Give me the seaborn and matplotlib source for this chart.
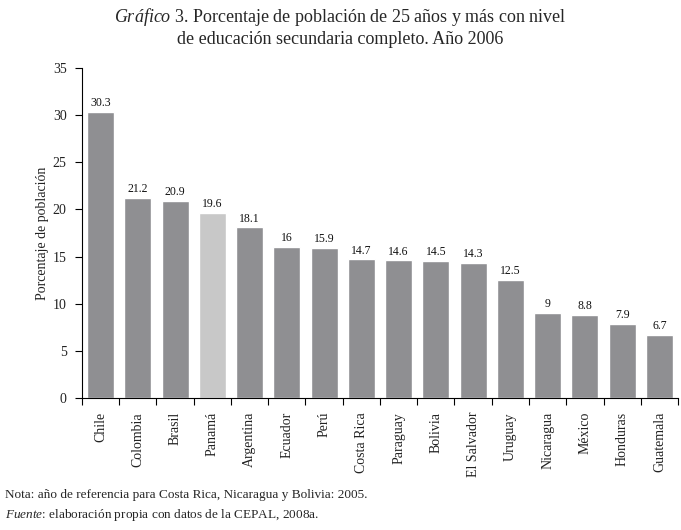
import matplotlib
matplotlib.use("Agg")
import matplotlib.pyplot as plt
import seaborn as sns
import pandas as pd
from matplotlib.ticker import FixedLocator

countries = ["Chile", "Colombia", "Brasil", "Panamá", "Argentina", "Ecuador", "Perú",
             "Costa Rica", "Paraguay", "Bolivia", "El Salvador", "Uruguay", "Nicaragua",
             "México", "Honduras", "Guatemala"]
values = [30.3, 21.2, 20.9, 19.6, 18.1, 16, 15.9, 14.7, 14.6, 14.5, 14.3, 12.5, 9, 8.8, 7.9, 6.7]
value_labels = ["30.3", "21.2", "20.9", "19.6", "18.1", "16", "15.9", "14.7", "14.6", "14.5",
                "14.3", "12.5", "9", "8.8", "7.9", "6.7"]
highlight = "Panamá"
yticks = [0, 5, 10, 15, 20, 25, 30, 35]

sns.set_theme(style="ticks")
plt.rcParams['font.family'] = ['Liberation Serif', 'DejaVu Serif']
plt.rcParams['mathtext.fontset'] = 'custom'
plt.rcParams['mathtext.rm'] = 'Liberation Serif'
plt.rcParams['mathtext.it'] = 'Liberation Serif:italic'

df = pd.DataFrame({"country": countries, "value": values})
palette = {c: ("#c8c8c8" if c == highlight else "#8f8f92") for c in countries}

fig = plt.figure(figsize=(6.81, 5.30), dpi=100)
ax = fig.add_axes([0.1204, 0.249, 0.8752, 0.6227])
sns.barplot(data=df, x="country", y="value", hue="country", palette=palette,
            width=0.72, legend=False, ax=ax, saturation=1)

for i, (v, lab) in enumerate(zip(values, value_labels)):
    ax.text(i, v + 0.3, lab, ha="center", va="bottom", fontsize=8.5, color="#111111")

ax.set_ylim(0, 35)
ax.set_xlim(-0.5, len(countries) - 0.5)
ax.set_yticks(yticks)
ax.set_yticklabels([str(t) for t in yticks], fontsize=10, color="#222222")
ax.set_xticks(range(len(countries)))
ax.set_xticklabels(countries, rotation=90, fontsize=10, color="#222222")
ax.tick_params(axis="x", which="major", length=0, pad=10)
ax.xaxis.set_minor_locator(FixedLocator([i - 0.5 for i in range(len(countries) + 1)]))
ax.tick_params(axis="x", which="minor", length=5, width=0.8, color="black", direction="out")
ax.tick_params(axis="y", length=5, width=0.8, color="black", direction="out", pad=6)
ax.set_xlabel("")
ax.set_ylabel("Porcentaje de población", fontsize=10, labelpad=3, color="#222222")
for s in ["top", "right"]:
    ax.spines[s].set_visible(False)
for s in ["left", "bottom"]:
    ax.spines[s].set_color("black")
    ax.spines[s].set_linewidth(0.8)

fig.text(0.5, 0.968, r"$\it{Gráfico}$ 3. Porcentaje de población de 25 años y más con nivel",
         ha="center", va="center", fontsize=13)
fig.text(0.5, 0.925, "de educación secundaria completo. Año 2006",
         ha="center", va="center", fontsize=13)

fig.text(0.008, 0.066, "Nota: año de referencia para Costa Rica, Nicaragua y Bolivia: 2005.",
         ha="left", va="center", fontsize=9.5)
fig.text(0.008, 0.028, r"$\it{Fuente}$: elaboración propia con datos de la CEPAL, 2008a.",
         ha="left", va="center", fontsize=9.5)

fig.savefig("out.png", dpi=100)
